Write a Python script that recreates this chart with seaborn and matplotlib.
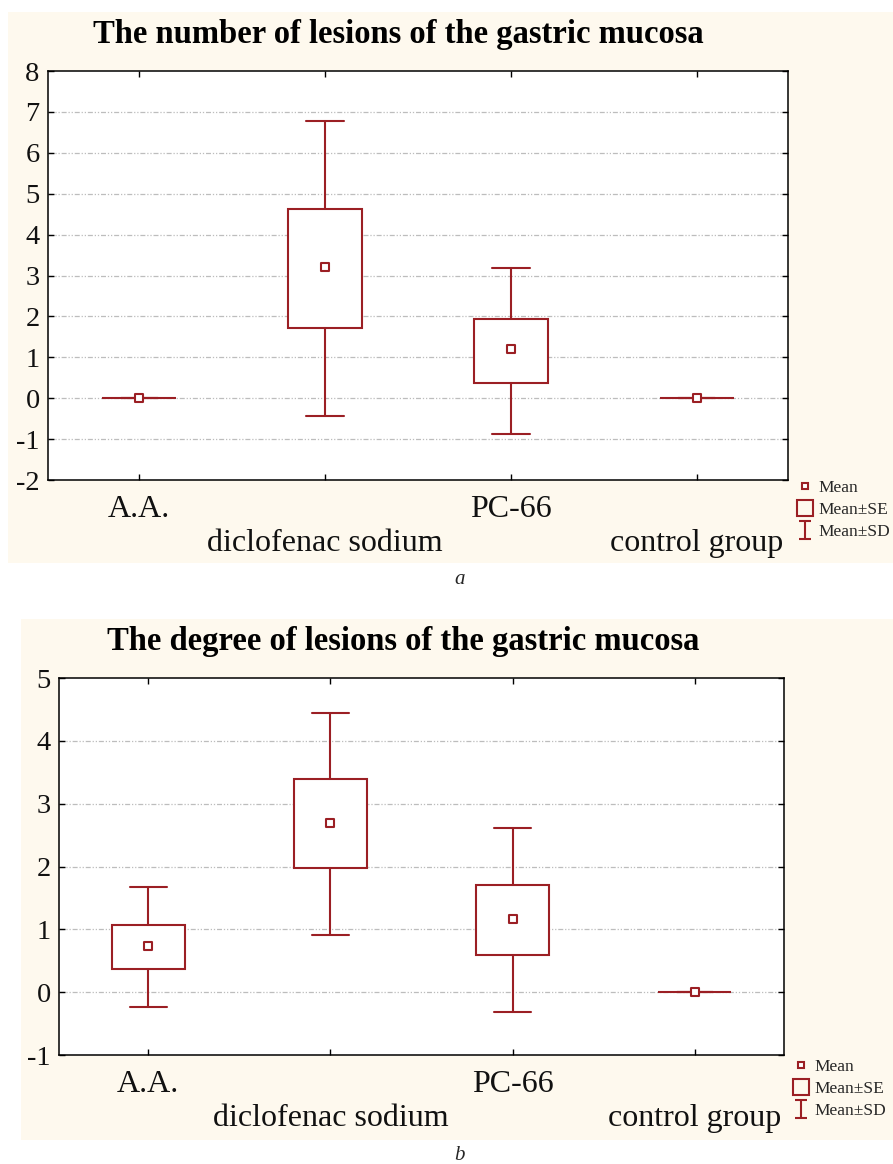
import numpy as np
import matplotlib
matplotlib.use('Agg')
import matplotlib.pyplot as plt
from matplotlib.patches import Rectangle
from matplotlib.lines import Line2D
from matplotlib.path import Path
import seaborn as sns

# groups on the x axis
groups = ['A.A.', 'diclofenac sodium', 'PC-66', 'control group']

# panel a: number of lesions (mean, mean±SE, mean±SD)
number_mean = [0.0, 3.2, 1.2, 0.0]
number_se_lo = [0.0, 1.72, 0.37, 0.0]
number_se_hi = [0.0, 4.63, 1.93, 0.0]
number_sd_lo = [0.0, -0.43, -0.88, 0.0]
number_sd_hi = [0.0, 6.78, 3.19, 0.0]

# panel b: degree of lesions
degree_mean = [0.73, 2.69, 1.16, 0.0]
degree_se_lo = [0.37, 1.97, 0.60, 0.0]
degree_se_hi = [1.07, 3.39, 1.71, 0.0]
degree_sd_lo = [-0.23, 0.91, -0.31, 0.0]
degree_sd_hi = [1.68, 4.44, 2.62, 0.0]

RED = '#9b1f24'
CREAM = '#fef9ee'
GRID = '#bdbdbd'

sns.set_style('ticks')
plt.rcParams['font.family'] = ['Liberation Serif', 'DejaVu Serif']
plt.rcParams['axes.unicode_minus'] = False

fig = plt.figure(figsize=(8.93, 11.64), dpi=100)
fig.patch.set_facecolor('white')

# cream panel backgrounds
fig.add_artist(Rectangle((0.009, 0.5163), 0.991, 0.4734, transform=fig.transFigure,
                         facecolor=CREAM, edgecolor='none', zorder=-10))
fig.add_artist(Rectangle((0.0235, 0.0206), 0.9765, 0.4476, transform=fig.transFigure,
                         facecolor=CREAM, edgecolor='none', zorder=-10))

ax_a = fig.add_axes([0.0538, 0.5876, 0.8286, 0.3514])
ax_b = fig.add_axes([0.0661, 0.0936, 0.8119, 0.3239])

# whisker "I" symbol for the legend
I_path = Path([(-0.6, 1), (0.6, 1), (0, 1), (0, -1), (-0.6, -1), (0.6, -1)],
              [Path.MOVETO, Path.LINETO, Path.MOVETO, Path.LINETO, Path.MOVETO, Path.LINETO])


def draw_panel(ax, mean, se_lo, se_hi, sd_lo, sd_hi, ylim, title, title_xy, leg_xy):
    pos = np.arange(len(groups))
    stats = []
    for i in range(len(groups)):
        stats.append({'med': mean[i], 'mean': mean[i], 'q1': se_lo[i], 'q3': se_hi[i],
                      'whislo': sd_lo[i], 'whishi': sd_hi[i], 'fliers': []})
    ax.set_facecolor('white')
    for y in range(ylim[0] + 1, ylim[1]):
        ax.axhline(y, color=GRID, lw=0.9, ls=(0, (4, 1.5, 1, 1.5, 1, 1.5)), zorder=0)
    line = dict(color=RED, lw=1.5)
    ax.bxp(stats, positions=pos, widths=0.4, capwidths=0.2, showfliers=False,
           patch_artist=True, manage_ticks=False,
           boxprops=dict(facecolor='white', edgecolor=RED, lw=1.5),
           whiskerprops=line, capprops=line, medianprops=dict(linestyle='none'),
           zorder=2)
    sns.scatterplot(x=pos, y=mean, ax=ax, marker='s', s=26, color='white',
                    edgecolor=RED, linewidth=1.5, zorder=5, legend=False)

    ax.set_xlim(-0.49, len(groups) - 0.51)
    ax.set_ylim(*ylim)
    ax.set_yticks(range(ylim[0], ylim[1] + 1))
    ax.set_xticks(pos)
    ax.set_xticklabels([g if i % 2 == 0 else '\n' + g for i, g in enumerate(groups)])
    ax.tick_params(axis='both', direction='in', length=4, width=1, color='black',
                   top=True, right=True)
    ax.tick_params(axis='y', labelsize=20.5, pad=6, labelcolor='#111111')
    ax.tick_params(axis='x', labelsize=23, pad=11, labelcolor='#111111')
    for lab in ax.get_xticklabels():
        lab.set_linespacing(1.22)
    for sp in ax.spines.values():
        sp.set_visible(True)
        sp.set_color('black')
        sp.set_linewidth(1.1)
    ax.set_xlabel('')
    ax.set_ylabel('')

    ax.text(title_xy[0], title_xy[1], title, transform=ax.transAxes, ha='center',
            va='baseline', fontsize=23.5, fontweight='bold', color='black')

    handles = [
        Line2D([], [], ls='', marker='s', ms=4.5, mfc='white', mec=RED, mew=1.5),
        Line2D([], [], ls='', marker='s', ms=12, mfc='none', mec=RED, mew=1.5),
        Line2D([], [], ls='', marker=I_path, ms=13.5, mec=RED, mew=1.5),
    ]
    ax.legend(handles, ['Mean', 'Mean±SE', 'Mean±SD'], loc='upper left',
              bbox_to_anchor=leg_xy, frameon=False, fontsize=12.5,
              handlelength=0.9, handletextpad=0.35, labelspacing=0.32,
              borderpad=0, borderaxespad=0)


draw_panel(ax_a, number_mean, number_se_lo, number_se_hi, number_sd_lo, number_sd_hi,
           (-2, 8), 'The number of lesions of the gastric mucosa', (0.473, 1.068),
           (1.012, 0.0))
draw_panel(ax_b, degree_mean, degree_se_lo, degree_se_hi, degree_sd_lo, degree_sd_hi,
           (-1, 5), 'The degree of lesions of the gastric mucosa', (0.474, 1.074),
           (1.012, -0.011))

fig.text(460 / 893, 1 - 580 / 1164, 'a', ha='center', va='center', fontsize=15,
         style='italic')
fig.text(459 / 893, 1 - 1155 / 1164, 'b', ha='center', va='center', fontsize=15,
         style='italic')

fig.savefig('out.png', dpi=100)
